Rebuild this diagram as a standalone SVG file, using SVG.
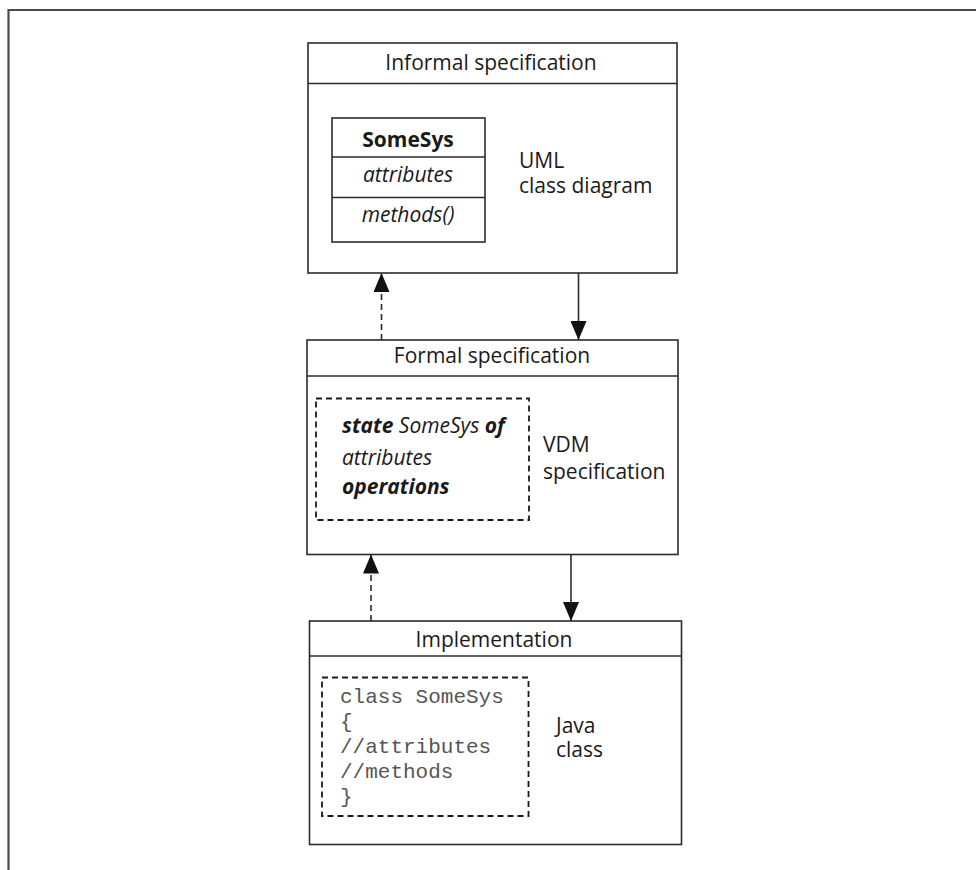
<svg xmlns="http://www.w3.org/2000/svg" width="976" height="870" viewBox="0 0 976 870">
  <style>
    .frame { fill: none; stroke: #4a4a4a; stroke-width: 2.2; }
    .box { fill: #ffffff; stroke: #2b2b2b; stroke-width: 1.6; }
    .rule { fill: none; stroke: #2b2b2b; stroke-width: 1.6; }
    .dash { fill: none; stroke: #1a1a1a; stroke-width: 1.8; stroke-dasharray: 6 4; }
    .edge { fill: none; stroke: #2b2b2b; stroke-width: 1.6; }
    .edge-dash { fill: none; stroke: #2b2b2b; stroke-width: 1.6; stroke-dasharray: 6 4; }
    .t { font-family: "Open Sans", "Noto Sans", "Liberation Sans", sans-serif; font-size: 21px; fill: #1a1a1a; }
    .mid { text-anchor: middle; }
    .b { font-weight: bold; }
    .i { font-style: italic; }
    .code { font-family: "Liberation Mono", "DejaVu Sans Mono", monospace; font-size: 21px; fill: #555555; }
  </style>
  <defs>
    <!-- filled triangular arrowhead, tip at the end of the line -->
    <marker id="head" viewBox="0 0 19 16" refX="19" refY="8" markerWidth="19" markerHeight="16" markerUnits="userSpaceOnUse" orient="auto">
      <path d="M0,0 L19,8 L0,16 Z" fill="#111111"/>
    </marker>
  </defs>

  <rect width="976" height="870" fill="#ffffff"/>

  <!-- page frame: top and left rules -->
  <path class="frame" d="M8.5,870 L8.5,10 L976,10"/>

  <!-- informal specification: UML class diagram -->
  <g id="informal">
    <rect class="box" x="308" y="43" width="369" height="230"/>
    <line class="rule" x1="308" y1="83.5" x2="677" y2="83.5"/>
    <text class="t mid" x="491" y="70">Informal specification</text>
    <rect class="box" x="332" y="118" width="153" height="124"/>
    <line class="rule" x1="332" y1="157" x2="485" y2="157"/>
    <line class="rule" x1="332" y1="197.5" x2="485" y2="197.5"/>
    <text class="t mid b" x="408" y="147">SomeSys</text>
    <text class="t mid i" x="408" y="182">attributes</text>
    <text class="t mid i" x="408" y="222">methods()</text>
    <text class="t" x="519" y="168">UML</text>
    <text class="t" x="519" y="193">class diagram</text>
  </g>

  <!-- formal specification: VDM -->
  <g id="formal">
    <rect class="box" x="307" y="340" width="371" height="214.5"/>
    <line class="rule" x1="307" y1="376" x2="678" y2="376"/>
    <text class="t mid" x="492" y="363">Formal specification</text>
    <rect class="dash" x="316" y="398.5" width="213" height="121.5"/>
    <text class="t" x="342" y="433"><tspan class="b i">state</tspan><tspan class="i"> SomeSys </tspan><tspan class="b i">of</tspan></text>
    <text class="t i" x="342" y="465">attributes</text>
    <text class="t b i" x="342" y="494">operations</text>
    <text class="t" x="543" y="452">VDM</text>
    <text class="t" x="543" y="479">specification</text>
  </g>

  <!-- implementation: Java class -->
  <g id="implementation">
    <rect class="box" x="309.5" y="621" width="372" height="223.5"/>
    <line class="rule" x1="309.5" y1="656" x2="681.5" y2="656"/>
    <text class="t mid" x="494" y="647">Implementation</text>
    <rect class="dash" x="322" y="677.5" width="206.5" height="138.5"/>
    <text class="code" x="340" y="703">class SomeSys</text>
    <text class="code" x="340" y="728">{</text>
    <text class="code" x="340" y="753">//attributes</text>
    <text class="code" x="340" y="778">//methods</text>
    <text class="code" x="340" y="803">}</text>
    <text class="t" x="556" y="733">Java</text>
    <text class="t" x="556" y="757">class</text>
  </g>

  <!-- connectors -->
  <g id="connectors">
    <line class="edge" x1="578.5" y1="273" x2="578.5" y2="340" marker-end="url(#head)"/>
    <line class="edge-dash" x1="381.5" y1="340" x2="381.5" y2="273" marker-end="url(#head)"/>
    <line class="edge" x1="571" y1="554.5" x2="571" y2="621" marker-end="url(#head)"/>
    <line class="edge-dash" x1="371" y1="621" x2="371" y2="554.5" marker-end="url(#head)"/>
  </g>
</svg>
